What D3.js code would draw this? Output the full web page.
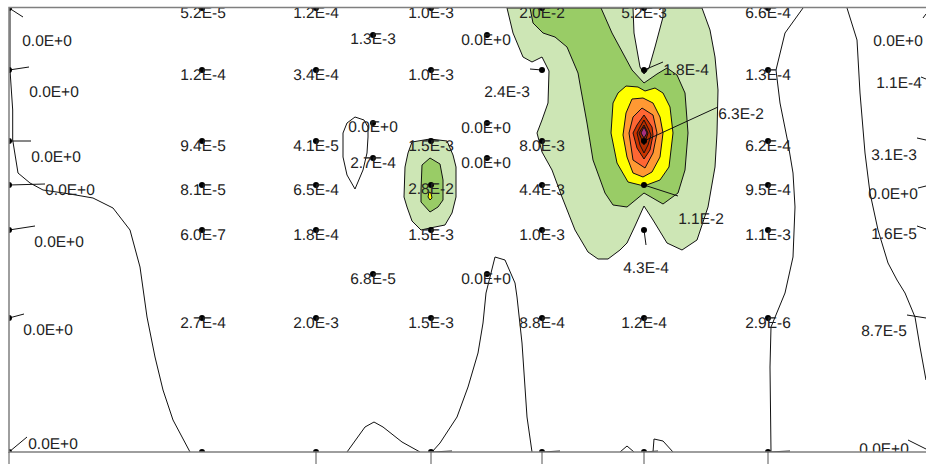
<!DOCTYPE html>
<html>
<head>
<meta charset="utf-8">
<script src="https://cdn.jsdelivr.net/npm/d3@7"></script>
<style>
html,body{margin:0;padding:0;background:#fff;overflow:hidden}
text{font-family:"Liberation Sans",Arial,sans-serif;font-size:15.5px;fill:#222;text-rendering:geometricPrecision}
</style>
</head>
<body>
<div id="chart"></div>
<script>
// Section distance and depth (plot units)
const xTicks = [9,316,431,542,644,768];
const fillLevels = ["#cde6b5","#99cc66","#ffff00","#ff9933","#ff6633","#cc3300","#b32d00","#992600","#a8307f"];

const plumeOuter = [[507,8],[513,33],[523,57],[532,62],[542,57],[549,71],[548,103],[542,120],[537,133],[542,152],[552,170],[562,197],[575,230],[588,252],[598,259],[608,259],[620,250],[627,243],[635,226],[644,206],[653,220],[667,243],[682,250],[697,240],[708,207],[715,167],[717,133],[718,90],[715,57],[710,30],[702,8]];
const plumeNotch = [[633,8],[634,33],[640,67],[644,74],[649,68],[655,47],[663,17],[663,8]];
const plumeMid = [[530,8],[533,23],[543,33],[555,37],[567,47],[578,73],[581,90],[587,123],[593,160],[605,193],[613,205],[627,207],[644,193],[663,204],[678,193],[685,170],[688,133],[685,93],[677,75],[667,68],[657,74],[644,83],[632,70],[625,57],[612,33],[601,8]];
const plumeYellow = [[626,86],[638,87],[645,91],[655,88],[663,93],[670,107],[673,133],[669,167],[660,180],[644,186],[628,182],[617,163],[611,133],[613,103],[618,93]];
const plumeOrange = [[632,99],[643,98],[653,103],[660,117],[663,133],[660,157],[652,172],[643,177],[633,173],[627,157],[623,135],[626,113]];
const plumeDeep = [[642,108],[653,115],[657,133],[653,153],[645,168],[633,160],[629,133],[633,117]];
const plumeDark = [[644,115],[652,127],[653,135],[650,150],[644,159],[637,148],[633,133],[637,125]];
const plumeDarker = [[644,120],[649,130],[651,135],[648,145],[644,153],[640,145],[637,133],[640,127]];
const plumeDarkest = [[644,125],[648,133],[644,145],[639,133]];
const plumeCore = [[644,127],[647,133],[644,138],[641,133]];

const blobOuter = [[412,142],[430,139],[447,141],[453,155],[456,167],[456,197],[452,213],[445,225],[430,228],[421,230],[412,221],[407,207],[404,197],[405,167],[408,153]];
const blobMid = [[430,158],[440,164],[443,180],[443,200],[438,207],[430,212],[421,202],[421,190],[422,165]];
const blobYellow = [[429,192],[431,193],[432,198],[430,200],[428,197]];

const zeroLoop = [[355,117],[364,120],[368,127],[368,137],[367,153],[363,170],[355,189],[347,175],[343,157],[343,133],[347,123],[355,117]];
const zeroLeft = [[10,8],[10,70],[12.7,110],[12.7,140],[18,173],[30,183],[43,190],[70,194],[93,198],[113,208],[130,230],[140,267],[147,317],[155,357],[163,390],[173,420],[190,452]];
const zeroPeak = [[432,452],[440,443],[457,417],[468,387],[478,353],[483,323],[486,293],[495,257],[505,260],[515,283],[517,297],[522,343],[527,417],[532,452]];
const zeroHump = [[347,452],[365,427],[374,422],[383,427],[402,442],[420,452]];
const zeroHumpB = [[620,452],[627,446],[634,452]];
const zeroHumpC = [[653,452],[654,439],[663,441],[673,452]];
const zeroRightA = [[803,8],[785,33],[776,70],[780,103],[788,143],[793,173],[795,207],[793,257],[785,293],[771,327],[770,367],[771,452]];
const zeroRightB = [[847,8],[857,40],[860,93],[865,153],[870,193],[878,230],[888,263],[897,280],[905,293],[915,317],[920,347],[926,380]];

// Sample stations: x, depth
const stationX = [9,9,9,9,9,9,9,202,202,202,202,202,202,202,316,316,316,316,316,316,316,373,373,373,373,431,431,431,431,431,431,431,487,487,487,487,542,542,542,542,542,542,542,644,644,644,644,644,644,644,768,768,768,768,768,768,768];
const stationY = [8,70,141,185,230,318,452,8,70,141,185,230,318,452,8,70,141,185,230,318,452,35,123,158,274,8,70,141,185,230,318,452,35,123,158,274,8,70,141,185,230,318,452,8,70,141,185,230,318,452,8,70,141,185,230,318,452];

// Concentration labels and their positions
const labelText = ["0.0E+0","0.0E+0","0.0E+0","0.0E+0","0.0E+0","0.0E+0","0.0E+0",
 "5.2E-5","1.2E-4","9.4E-5","8.1E-5","6.0E-7","2.7E-4",
 "1.2E-4","3.4E-4","4.1E-5","6.5E-4","1.8E-4","2.0E-3",
 "1.3E-3","0.0E+0","2.7E-4","6.8E-5",
 "1.0E-3","1.0E-3","1.5E-3","2.8E-2","1.5E-3","1.5E-3",
 "0.0E+0","0.0E+0","0.0E+0","0.0E+0",
 "2.0E-2","2.4E-3","8.0E-3","4.4E-3","1.0E-3","8.8E-4",
 "5.2E-3","1.8E-4","6.3E-2","1.1E-2","4.3E-4","1.2E-4",
 "6.6E-4","1.3E-4","6.2E-4","9.5E-4","1.1E-3","2.9E-6",
 "0.0E+0","1.1E-4","3.1E-3","0.0E+0","1.6E-5","8.7E-5","0.0E+0"];
const labelX = [47,54,56,70,59,48,53,
 203,203,203,203,203,203,
 316,316,316,316,316,316,
 373,373,373,373,
 431,431,431,431,431,431,
 486,486,486,486,
 542,507,542,542,542,542,
 644,686,741,701,646,644,
 768,768,768,768,768,768,
 898,899,894,893,894,884,884];
const labelY = [41,92,157,190,242,330,444,
 13,75,146,190,235,323,
 13,75,146,190,235,323,
 39,127,163,279,
 13,75,146,189,235,323,
 40,128,163,279,
 13,92,146,190,235,323,
 13,70,114,219,268,323,
 13,75,146,190,235,323,
 41,83,155,194,234,331,449];

// Leader lines from a station to its displaced label
const leaderFrom = [[9,8],[9,70],[9,141],[9,185],[9,230],[9,318],[9,452],[542,70],[644,70],[644,141],[644,185],[644,230],[926,14],[926,79],[926,140],[926,186],[926,229],[926,318],[926,449],[431,452],[542,452],[644,452],[768,452]];
const leaderTo = [[23,17],[29,67],[31,141],[45,184],[35,226],[24,314],[27,437],[530,69],[663,62],[718,107],[678,196],[646,245],[923,18],[921,77],[917,138],[918,188],[917,226],[907,315],[908,440],[452,451],[560,451],[658,451],[790,451]];

const width = 926, height = 464;
const x = d3.scaleLinear().domain([9,926]).range([9,926]);
const y = d3.scaleLinear().domain([7.5,452]).range([7.5,452]);
const line = d3.line().x(d => x(d[0])).y(d => y(d[1]));

const svg = d3.select("#chart").append("svg").attr("width",width).attr("height",height).style("display","block");
svg.append("defs").append("clipPath").attr("id","plot").append("rect")
  .attr("x",x(9)).attr("y",y(7.5)).attr("width",x(926)-x(9)).attr("height",y(452)-y(7.5));
const g = svg.append("g").attr("clip-path","url(#plot)");

const filled = [
  [plumeOuter,fillLevels[0]],[plumeNotch,"#ffffff"],[plumeMid,fillLevels[1]],[plumeYellow,fillLevels[2]],
  [plumeOrange,fillLevels[3]],[plumeDeep,fillLevels[4]],[plumeDark,fillLevels[5]],[plumeDarker,fillLevels[6]],
  [plumeDarkest,fillLevels[7]],[plumeCore,fillLevels[8]],
  [blobOuter,fillLevels[0]],[blobMid,fillLevels[1]],[blobYellow,fillLevels[2]]
];
g.selectAll("path.band").data(filled).join("path").attr("class","band")
  .attr("d",d => line(d[0])+"Z").attr("fill",d => d[1]).attr("stroke","#111").attr("stroke-width",1);

g.selectAll("path.zero").data([zeroLoop,zeroLeft,zeroPeak,zeroHump,zeroHumpB,zeroHumpC,zeroRightA,zeroRightB]).join("path").attr("class","zero")
  .attr("d",line).attr("fill","none").attr("stroke","#111").attr("stroke-width",1);

g.selectAll("line.leader").data(leaderFrom).join("line").attr("class","leader")
  .attr("x1",d => x(d[0])).attr("y1",d => y(d[1]))
  .attr("x2",(d,i) => x(leaderTo[i][0])).attr("y2",(d,i) => y(leaderTo[i][1]))
  .attr("stroke","#111").attr("stroke-width",1);

g.selectAll("circle").data(stationX).join("circle")
  .attr("cx",d => x(d)).attr("cy",(d,i) => y(stationY[i])).attr("r",3).attr("fill","#000");

g.selectAll("text").data(labelText).join("text")
  .attr("x",(d,i) => x(labelX[i])).attr("y",(d,i) => y(labelY[i])).attr("dy","0.3em")
  .attr("text-anchor","middle").text(d => d);

// frame and axis ticks
const frame = svg.append("g").attr("stroke","#7f7f7f").attr("stroke-width",1.5).attr("fill","none");
frame.append("path").attr("d",line([[926,7.5],[9,7.5],[9,452],[926,452]]));
svg.append("g").selectAll("line").data(xTicks).join("line")
  .attr("x1",d => x(d)).attr("x2",d => x(d)).attr("y1",y(452)).attr("y2",464)
  .attr("stroke","#555").attr("stroke-width",1);
</script>
</body>
</html>
